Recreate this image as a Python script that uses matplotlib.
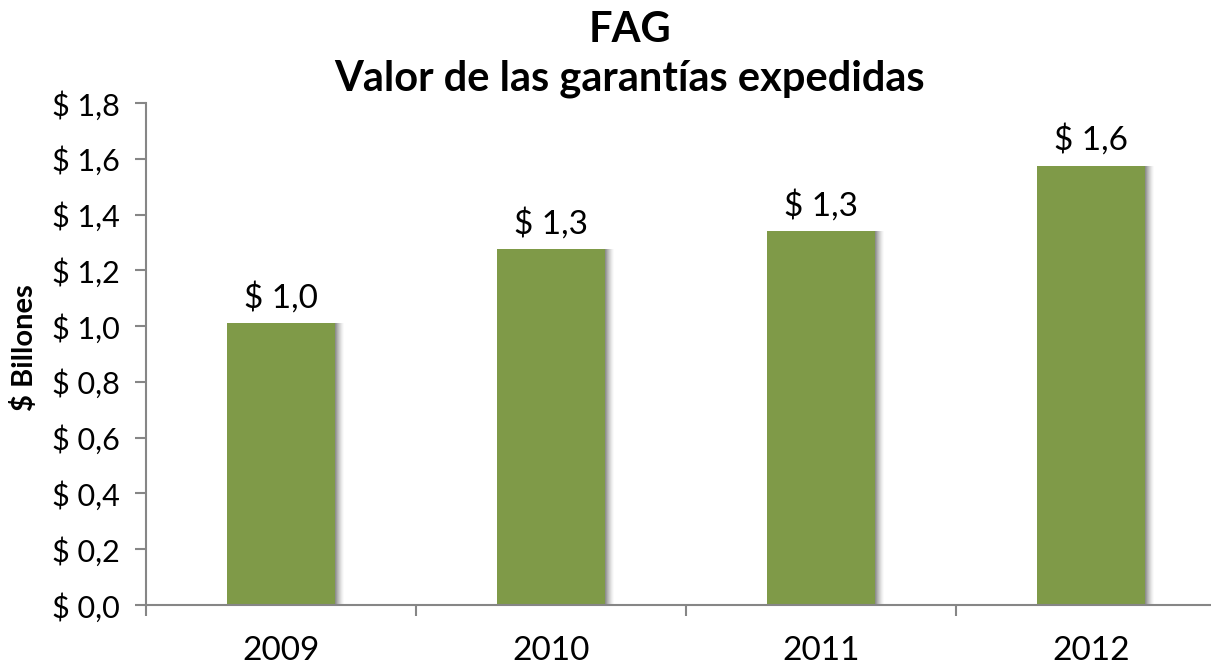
import matplotlib
matplotlib.use("Agg")
import matplotlib.pyplot as plt
import numpy as np

years = ["2009", "2010", "2011", "2012"]
values = [1.01, 1.275, 1.34, 1.575]
labels = ["$ 1,0", "$ 1,3", "$ 1,3", "$ 1,6"]
yticks = [0.0, 0.2, 0.4, 0.6, 0.8, 1.0, 1.2, 1.4, 1.6, 1.8]
ytick_labels = ["$ 0,0", "$ 0,2", "$ 0,4", "$ 0,6", "$ 0,8", "$ 1,0", "$ 1,2", "$ 1,4", "$ 1,6", "$ 1,8"]

plt.rcParams['font.family'] = ['Lato', 'DejaVu Sans']

W, H = 1211, 668
fig = plt.figure(figsize=(W/100, H/100), dpi=100)
ax = fig.add_axes([146/W, (H-605)/H, 1080/W, (605-103)/H])

x = np.arange(len(years))
bw = 0.4
green = "#7F9A48"
# soft shadow to the right
for i, a in enumerate([0.10, 0.09, 0.08, 0.07, 0.06, 0.05, 0.04, 0.03, 0.02]):
    off = (i + 1) * 1.0 / 270
    ax.bar(x + off, values, width=bw, color="#000000", alpha=a, zorder=1, linewidth=0)
ax.bar(x, values, width=bw, color=green, zorder=2, linewidth=0)

for xi, v, lab in zip(x, values, labels):
    ax.text(xi, v + 0.035, lab, ha="center", va="bottom", fontsize=24, color="black")

ax.set_xlim(-0.5, 3.5)
ax.set_ylim(0, 1.8)
ax.set_yticks(yticks)
ax.set_yticklabels(ytick_labels, fontsize=22)
ax.set_xticks([-0.5, 0.5, 1.5, 2.5])
ax.set_xticklabels([])
ax.set_xticks(x, minor=True)
ax.set_xticklabels(years, minor=True, fontsize=24)
ax.tick_params(axis="x", which="minor", length=0, pad=22)
ax.tick_params(axis="x", which="major", length=8, width=1.5, color="#868686", direction="out")
ax.tick_params(axis="y", length=8, width=1.5, color="#868686", direction="out", pad=11)

for s in ["top", "right"]:
    ax.spines[s].set_visible(False)
for s in ["left", "bottom"]:
    ax.spines[s].set_color("#868686")
    ax.spines[s].set_linewidth(1.5)

ax.set_ylabel("$ Billones", fontsize=21, fontweight="bold", va="center")
ax.yaxis.set_label_coords((25 - 146) / 1080, (605 - 348) / 502)

fig.text(630/W, 1 - 30/H, "FAG", ha="center", va="center", fontsize=30, fontweight="bold")
fig.text(630/W, 1 - 79/H, "Valor de las garantías expedidas", ha="center", va="center", fontsize=30, fontweight="bold")

fig.savefig("out.png", dpi=100)
